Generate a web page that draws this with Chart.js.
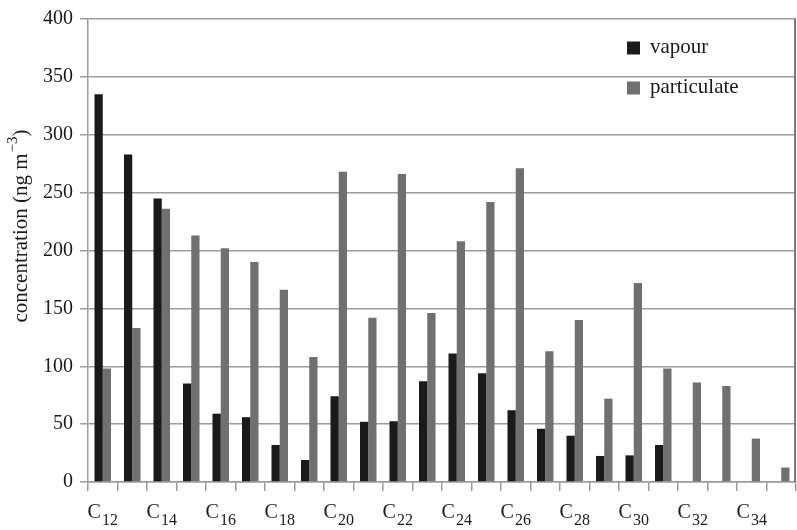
<!DOCTYPE html>
<html>
<head>
<meta charset="utf-8">
<script src="https://cdn.jsdelivr.net/npm/chart.js@4/dist/chart.umd.min.js"></script>
<style>
  html, body { margin: 0; padding: 0; background: #ffffff; }
  #wrap { width: 797px; height: 530px; position: relative; }
</style>
</head>
<body>
<div id="wrap"><canvas id="c" width="797" height="530"></canvas></div>
<script>
// ---- data ----
const categories = ['C12','C13','C14','C15','C16','C17','C18','C19','C20','C21','C22','C23',
                    'C24','C25','C26','C27','C28','C29','C30','C31','C32','C33','C34','C35'];
const tickElements = ['C','C','C','C','C','C','C','C','C','C','C','C','C','C','C','C','C','C','C','C','C','C','C','C'];
const tickSubscripts = ['12','','14','','16','','18','','20','','22','','24','','26','','28','','30','','32','','34',''];
const vapour = [335, 283, 245, 85, 59, 56, 32, 19, 74, 52, 52.5, 87,
                111, 94, 62, 46, 40, 22.5, 23, 32, 0, 0, 0, 0];
const particulate = [98, 133, 236, 213, 202, 190, 166, 108, 268, 142, 266, 146,
                     208, 242, 271, 113, 140, 72, 172, 98, 86, 83, 37.5, 12.5];
const seriesNames = ['vapour', 'particulate'];
const yTicks = [0, 50, 100, 150, 200, 250, 300, 350, 400];
const yTitleMain = 'concentration (ng m';
const yTitleSup = '\u22123';
const yTitleEnd = ')';

const SERIF = '"Liberation Serif", "DejaVu Serif", serif';
const GRID = '#9c9c9c';

const customDraw = {
  id: 'customDraw',
  afterDraw(chart) {
    const ctx = chart.ctx;
    const area = chart.chartArea;
    const xs = chart.scales.x;
    // right border
    ctx.save();
    ctx.strokeStyle = '#7a7a7a';
    ctx.lineWidth = 2;
    ctx.beginPath();
    ctx.moveTo(area.right - 1, area.top);
    ctx.lineTo(area.right - 1, area.bottom);
    ctx.stroke();
    ctx.restore();

    // x tick labels with subscripts
    ctx.save();
    ctx.fillStyle = '#1a1a1a';
    ctx.textBaseline = 'alphabetic';
    for (let i = 0; i < categories.length; i++) {
      const sub = tickSubscripts[i];
      if (!sub) continue;
      const cx = xs.getPixelForValue(i);
      ctx.font = '20px ' + SERIF;
      const wC = ctx.measureText(tickElements[i]).width;
      ctx.font = '16px ' + SERIF;
      const wS = ctx.measureText(sub).width;
      const total = wC + 1 + wS;
      const x0 = cx - total / 2;
      const base = area.bottom + 36;
      ctx.font = '20px ' + SERIF;
      ctx.textAlign = 'left';
      ctx.fillText(tickElements[i], x0, base);
      ctx.font = '16px ' + SERIF;
      ctx.fillText(sub, x0 + wC + 1, base + 7);
    }
    ctx.restore();

    // y title (rotated, with superscript)
    ctx.save();
    ctx.translate(21, 226);
    ctx.rotate(-Math.PI / 2);
    ctx.fillStyle = '#1a1a1a';
    ctx.textBaseline = 'middle';
    ctx.font = '21px ' + SERIF;
    const w1 = ctx.measureText(yTitleMain).width;
    const w3 = ctx.measureText(yTitleEnd).width;
    ctx.font = '15px ' + SERIF;
    const w2 = ctx.measureText(yTitleSup).width;
    const tot = w1 + w2 + w3 + 1;
    let x = -tot / 2;
    ctx.textAlign = 'left';
    ctx.font = '21px ' + SERIF;
    ctx.fillText(yTitleMain, x, 0);
    x += w1 + 1;
    ctx.font = '15px ' + SERIF;
    ctx.fillText(yTitleSup, x, -8);
    x += w2;
    ctx.font = '21px ' + SERIF;
    ctx.fillText(yTitleEnd, x, 0);
    ctx.restore();

    // legend
    ctx.save();
    const lx = 627, ly = [48, 88];
    chart.data.datasets.forEach((ds, k) => {
      ctx.fillStyle = ds.backgroundColor;
      ctx.fillRect(lx, ly[k] - 6.5, 13, 13);
      ctx.fillStyle = '#1a1a1a';
      ctx.font = '21px ' + SERIF;
      ctx.textAlign = 'left';
      ctx.textBaseline = 'middle';
      ctx.fillText(ds.label, lx + 23, ly[k] - 1);
    });
    ctx.restore();
  }
};

new Chart(document.getElementById('c'), {
  type: 'bar',
  data: {
    labels: categories,
    datasets: [
      { label: seriesNames[0], data: vapour, backgroundColor: '#1a1a1a', borderWidth: 0 },
      { label: seriesNames[1], data: particulate, backgroundColor: '#707070', borderWidth: 0 }
    ]
  },
  options: {
    responsive: false,
    animation: false,
    devicePixelRatio: 1,
    layout: { padding: { top: 10, right: 1, left: 0, bottom: 0 } },
    plugins: { legend: { display: false }, tooltip: { enabled: false } },
    datasets: { bar: { categoryPercentage: 0.56, barPercentage: 1.0 } },
    scales: {
      x: {
        type: 'category',
        offset: true,
        grid: { offset: true, drawOnChartArea: false, drawTicks: true, tickLength: 9, color: GRID, lineWidth: 1.5 },
        border: { display: true, color: GRID, width: 1.5 },
        ticks: { display: false, autoSkip: false },
        afterFit(scale) { scale.height = 48; }
      },
      y: {
        min: 0, max: 400,
        afterBuildTicks(scale) { scale.ticks = yTicks.map(v => ({ value: v })); },
        grid: { color: GRID, lineWidth: 1.5, tickLength: 8, drawTicks: true },
        border: { display: true, color: GRID, width: 1.5 },
        ticks: { font: { family: SERIF, size: 20 }, color: '#1a1a1a', padding: 7 },
        afterFit(scale) { scale.width = 88; }
      }
    }
  },
  plugins: [customDraw]
});
</script>
</body>
</html>
